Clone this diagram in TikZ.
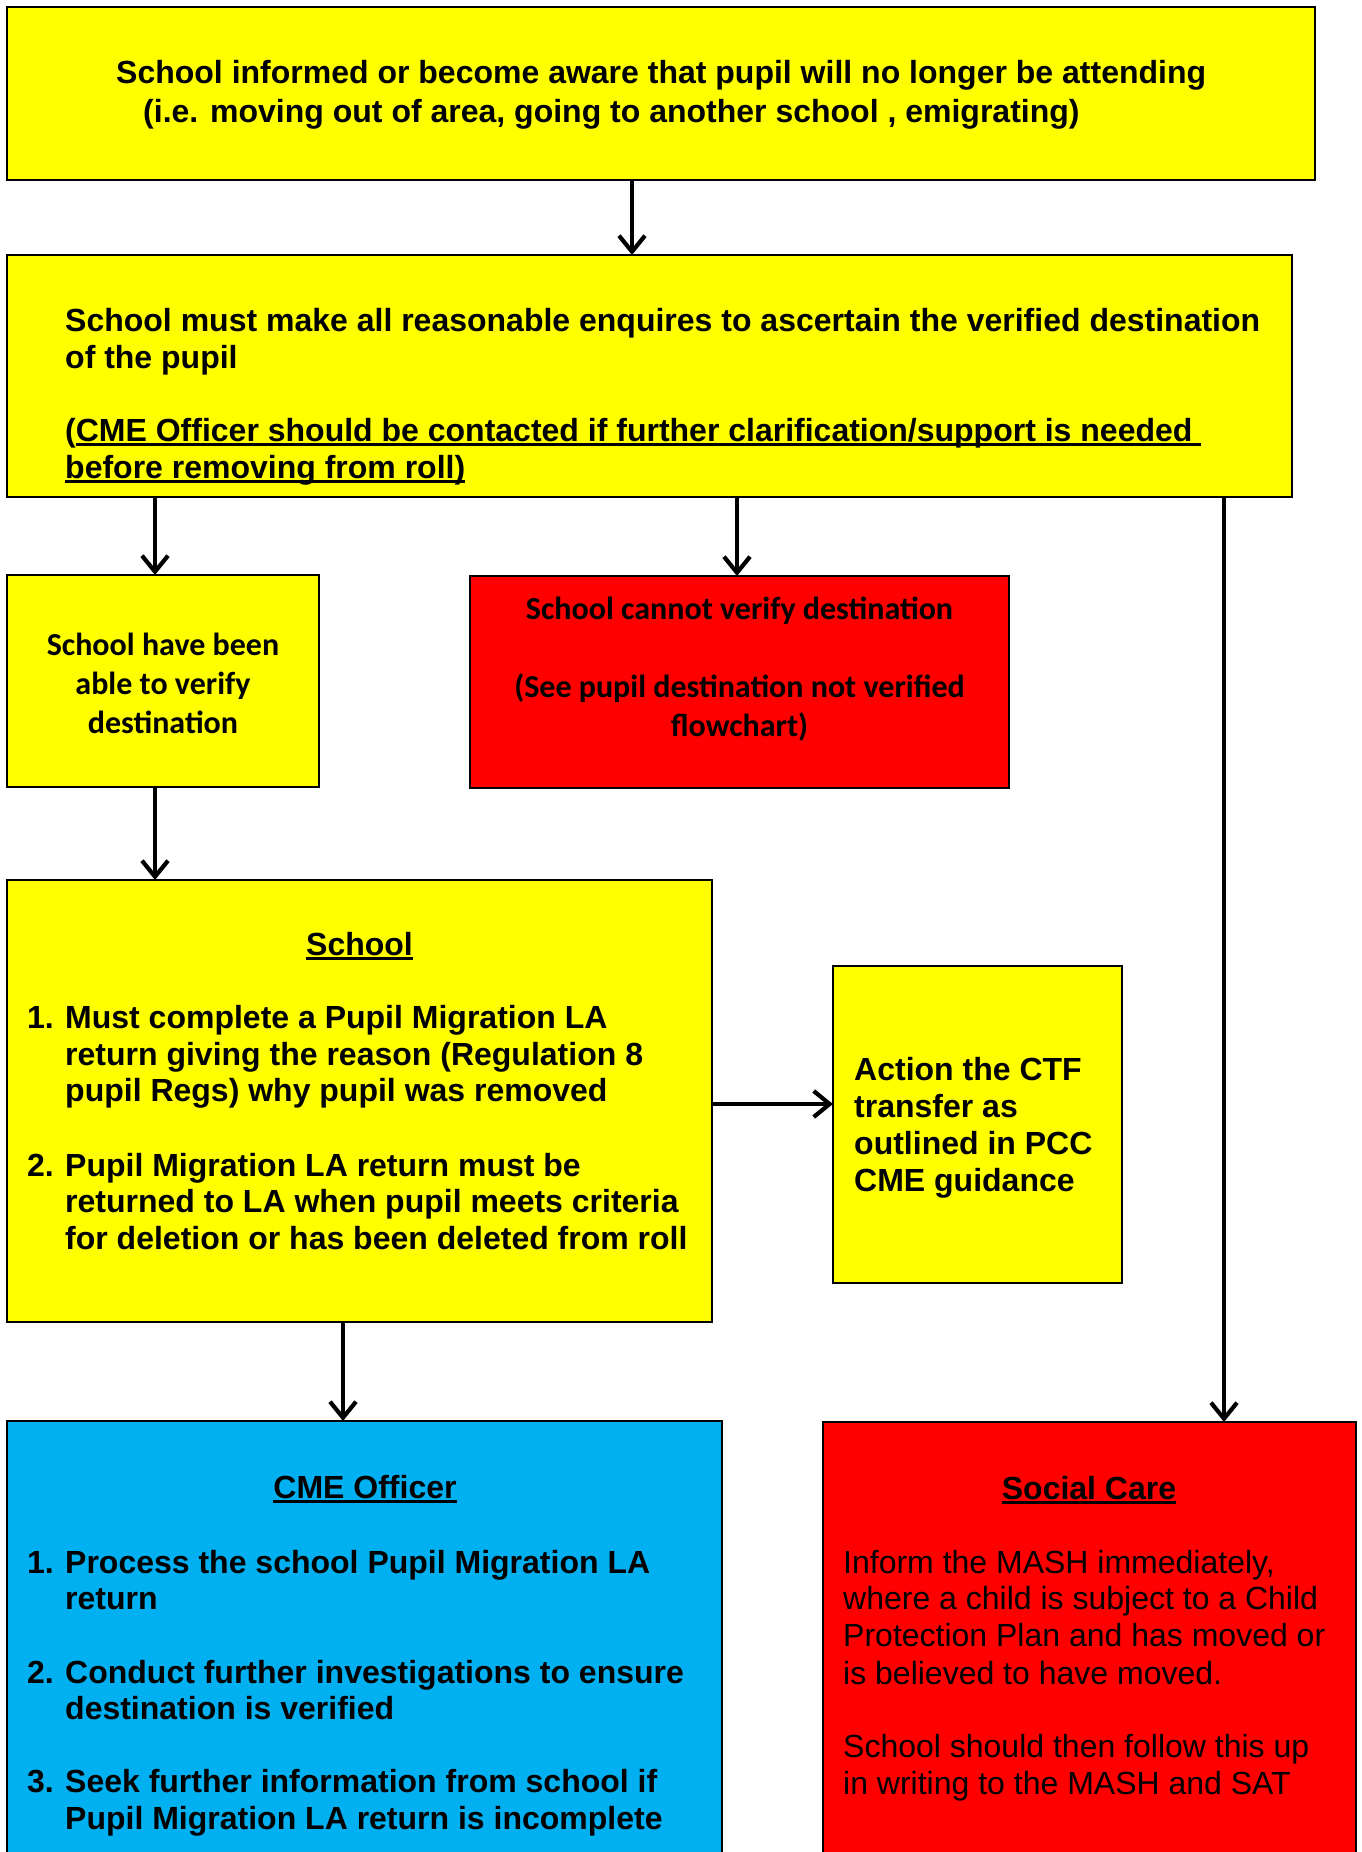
\documentclass[tikz,border=0pt]{standalone}
\usepackage{fontspec}
\setmainfont{Liberation Sans}
\newfontfamily\calib{Carlito}
\usetikzlibrary{arrows.meta}
\definecolor{ylw}{HTML}{FFFF00}
\definecolor{rd}{HTML}{FF0000}
\definecolor{bl}{HTML}{00B0F0}
\newcommand\myul[1]{\setbox0\hbox{#1}\rlap{\rule[-5pt]{\wd0}{2.8pt}}\box0}
\begin{document}
\begin{tikzpicture}[x=1pt,y=-1pt,
 box/.style={draw=black,line width=2pt,anchor=north west,inner sep=0pt,outer sep=0pt},
 arr/.style={line width=4.2pt,-{Straight Barb[length=16pt,width=26pt,line width=4.2pt]}},
 tx/.style={anchor=base west,inner sep=0pt,font=\fontsize{32}{36.8}\selectfont\bfseries},
 txm/.style={anchor=base,inner sep=0pt,font=\fontsize{32}{36.8}\selectfont\bfseries},
 txc/.style={anchor=base,inner sep=0pt,font=\fontsize{32}{39}\selectfont\calib\bfseries},
 txr/.style={anchor=base west,inner sep=0pt,font=\fontsize{32}{36.8}\selectfont},
]
\fill[white] (0,0) rectangle (1362,1852);
\useasboundingbox (0,0) rectangle (1362,1852);

% boxes
\node[box,fill=ylw,minimum width=1308pt,minimum height=173pt] (b1) at (7,7) {};
\node[box,fill=ylw,minimum width=1285pt,minimum height=242pt] (b2) at (7,255) {};
\node[box,fill=ylw,minimum width=312pt,minimum height=212pt] (b3) at (7,575) {};
\node[box,fill=rd,minimum width=539pt,minimum height=212pt] (b4) at (470,576) {};
\node[box,fill=ylw,minimum width=705pt,minimum height=442pt] (b5) at (7,880) {};
\node[box,fill=ylw,minimum width=289pt,minimum height=317pt] (b6) at (833,966) {};
\node[box,fill=bl,minimum width=715pt,minimum height=460pt] (b7) at (7,1421) {};
\node[box,fill=rd,minimum width=533pt,minimum height=460pt] (b8) at (823,1422) {};

% connectors
\draw[arr] (b1.south -| 632,0) -- (b2.north -| 632,0);
\draw[arr] (b2.south -| 155,0) -- (b3.north -| 155,0);
\draw[arr] (b2.south -| 737,0) -- (b4.north -| 737,0);
\draw[arr] (b2.south -| 1224,0) -- (b8.north -| 1224,0);
\draw[arr] (b3.south -| 155,0) -- (b5.north -| 155,0);
\draw[arr] (b5.east |- 0,1104) -- (b6.west |- 0,1104);
\draw[arr] (b5.south -| 343,0) -- (b7.north -| 343,0);

% box 1 text
\node[tx] (t1a) at (116,84) {School informed or become aware that pupil will no longer be attending};
\node[tx] (t1b) at (143,122) {(i.e. moving out of area, going to another school , emigrating)};

% box 2 text
\node[tx] (t2a) at (65,331) {School must make all reasonable enquires to ascertain the verified destination};
\node[tx] (t2b) at (65,368) {of the pupil};
\node[tx] (t2c) at (65,441) {(\myul{CME Officer should be contacted if further clarification/support is needed\ }};
\node[tx] (t2d) at (65,478) {\myul{before removing from roll)}};

% box 3 text
\node[txc] (t3a) at (163,655) {School have been};
\node[txc] (t3b) at (163,694) {able to verify};
\node[txc] (t3c) at (163,733) {destination};

% box 4 text
\node[txc] (t4a) at (739.5,619) {School cannot verify destination};
\node[txc] (t4b) at (739.5,697) {(See pupil destination not verified};
\node[txc] (t4c) at (739.5,736) {flowchart)};

% box 5 text
\node[txm] (t5h) at (359.5,955) {\myul{School}};
\node[tx] (t5n1) at (27,1028) {1.};
\node[tx] (t5a) at (65,1028) {Must complete a Pupil Migration LA};
\node[tx] (t5b) at (65,1065) {return giving the reason (Regulation 8};
\node[tx] (t5c) at (65,1101) {pupil Regs) why pupil was removed};
\node[tx] (t5n2) at (27,1176) {2.};
\node[tx] (t5d) at (65,1176) {Pupil Migration LA return must be};
\node[tx] (t5e) at (65,1212) {returned to LA when pupil meets criteria};
\node[tx] (t5f) at (65,1249) {for deletion or has been deleted from roll};

% box 6 text
\node[tx] (t6a) at (854,1080) {Action the CTF};
\node[tx] (t6b) at (854,1117) {transfer as};
\node[tx] (t6c) at (854,1154) {outlined in PCC};
\node[tx] (t6d) at (854,1191) {CME guidance};

% box 7 text
\node[txm] (t7h) at (365,1498) {\myul{CME Officer}};
\node[tx] (t7n1) at (27,1573) {1.};
\node[tx] (t7a) at (65,1573) {Process the school Pupil Migration LA};
\node[tx] (t7b) at (65,1609) {return};
\node[tx] (t7n2) at (27,1683) {2.};
\node[tx] (t7c) at (65,1683) {Conduct further investigations to ensure};
\node[tx] (t7d) at (65,1719) {destination is verified};
\node[tx] (t7n3) at (27,1792) {3.};
\node[tx] (t7e) at (65,1792) {Seek further information from school if};
\node[tx] (t7f) at (65,1829) {Pupil Migration LA return is incomplete};

% box 8 text
\node[txm] (t8h) at (1089,1499) {\myul{Social Care}};
\node[txr] (t8a) at (843,1573) {Inform the MASH immediately,};
\node[txr] (t8b) at (843,1609) {where a child is subject to a Child};
\node[txr] (t8c) at (843,1646) {Protection Plan and has moved or};
\node[txr] (t8d) at (843,1684) {is believed to have moved.};
\node[txr] (t8e) at (843,1757) {School should then follow this up};
\node[txr] (t8f) at (843,1794) {in writing to the MASH and SAT};
\end{tikzpicture}
\end{document}
